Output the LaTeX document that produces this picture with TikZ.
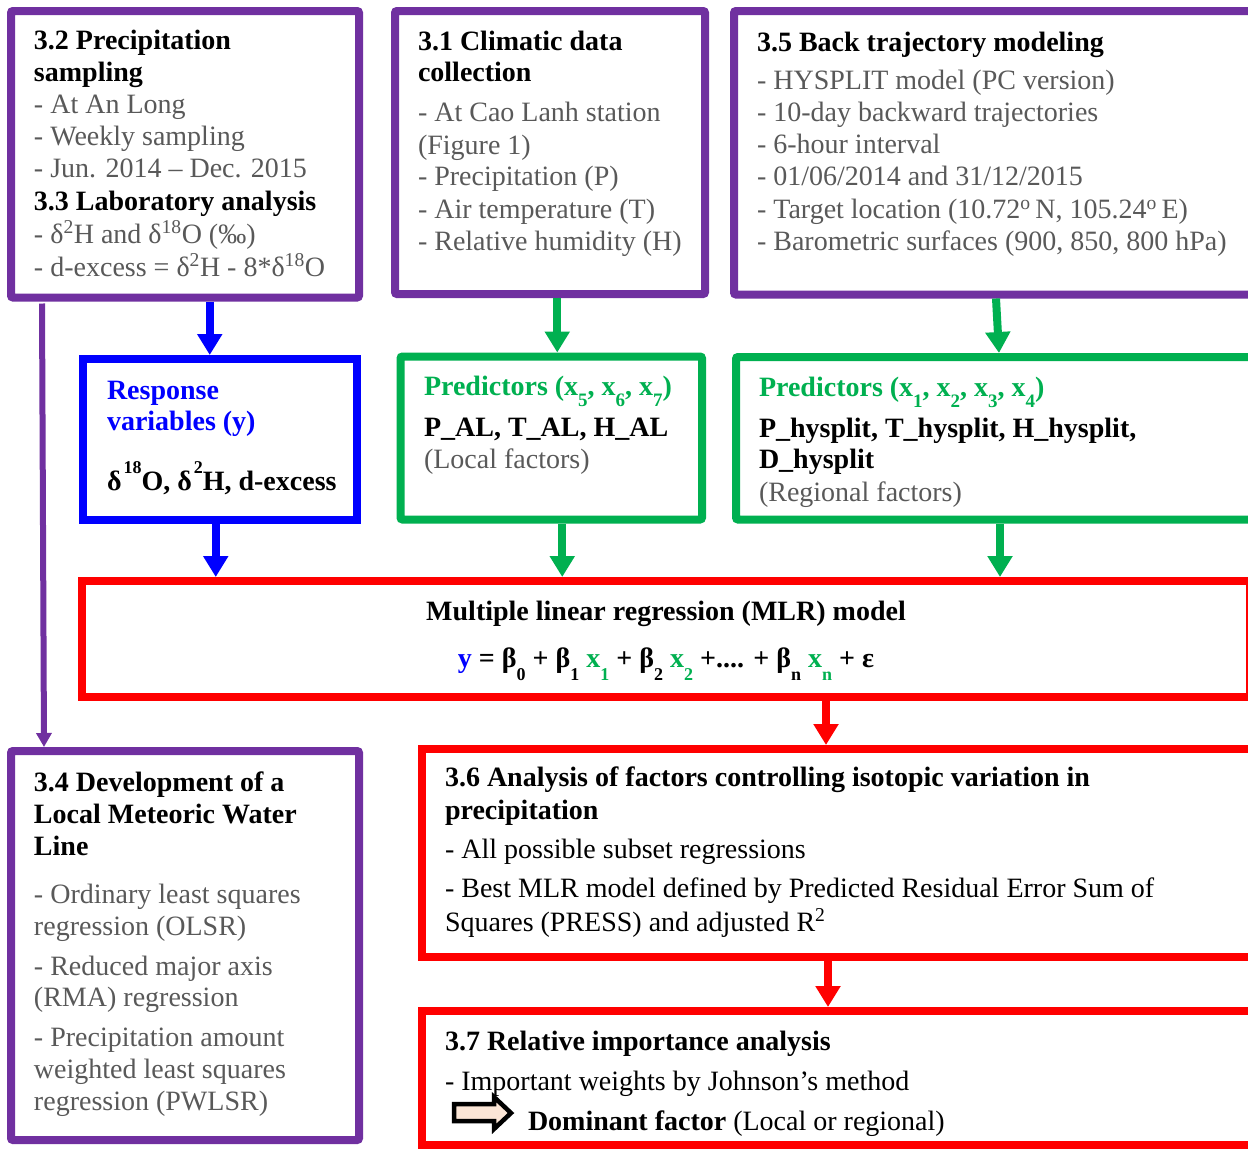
\documentclass[tikz,border=0pt]{standalone}
\usepackage{fontspec}
\setmainfont{Liberation Serif}
\usetikzlibrary{arrows.meta}
\definecolor{cpurple}{HTML}{7030A0}
\definecolor{cblue}{HTML}{0000FF}
\definecolor{cgreen}{HTML}{00B050}
\definecolor{cred}{HTML}{FF0000}
\definecolor{cgray}{HTML}{595959}
\definecolor{cpeach}{HTML}{FBE5D6}
\newcommand{\tline}[4]{\node[#2] (#1) at (#3) {#4};}
\newcommand{\lsub}[1]{\raisebox{-11pt}{\fontsize{19}{19}\selectfont #1}}
\newcommand{\eqsub}[1]{\raisebox{-13pt}{\fontsize{18}{18}\selectfont #1}}
\newcommand{\hsup}[1]{\hspace{2pt}\raisebox{17pt}{\fontsize{18}{18}\selectfont #1}}
\begin{document}
\begin{tikzpicture}[x=1pt,y=-1pt,
 box/.style={draw=#1,line width=8pt,fill=white,rounded corners=2pt,inner sep=0pt,outer sep=4pt},
 tx/.style={inner sep=0pt,outer sep=0pt,anchor=base west,font=\fontsize{28}{32}\selectfont},
 hd/.style={tx,font=\fontsize{28}{32}\selectfont\bfseries},
 gr/.style={tx,text=cgray},
 arr/.style={draw=#1,line width=8pt,-{Triangle[length=21pt,width=24pt]}},
 parr/.style={draw=cpurple,line width=6pt,-{Triangle[length=14pt,width=15pt]}}]
\fill[white] (0,0) rectangle (1248,1149);
\useasboundingbox (0,0) rectangle (1248,1149);
\clip (0,0) rectangle (1248,1149);

% boxes
\node[box=cpurple,minimum width=348pt,minimum height=286.5pt] (b32) at (185,154.25) {};
\node[box=cpurple,minimum width=310pt,minimum height=283pt] (b31) at (550,152.5) {};
\node[box=cpurple,minimum width=524pt,minimum height=283.5pt] (b35) at (996,152.75) {};
\node[box=cblue,rounded corners=0pt,minimum width=273.5pt,minimum height=161pt] (resp) at (219.75,439.5) {};
\node[box=cgreen,minimum width=301.5pt,minimum height=163pt] (loc) at (551.25,438) {};
\node[box=cgreen,minimum width=526pt,minimum height=162.5pt] (reg) at (999,438.25) {};
\node[box=cred,rounded corners=0pt,minimum width=1168pt,minimum height=116pt] (mlr) at (666,639) {};
\node[box=cpurple,minimum width=348pt,minimum height=389pt] (b34) at (185,945.5) {};
\node[box=cred,rounded corners=0pt,minimum width=834pt,minimum height=208pt] (b36) at (839,853) {};
\node[box=cred,rounded corners=0pt,minimum width=834pt,minimum height=134pt] (b37) at (839,1078) {};

% box 3.2 / 3.3
\tline{t32a}{hd}{34,49.5}{3.2 Precipitation}
\tline{t32b}{hd}{34,81.5}{sampling}
\tline{t32c}{gr}{34,113}{- At An Long}
\tline{t32d}{gr}{34,145.5}{- Weekly sampling}
\tline{t32e}{gr}{34,177}{- Jun. 2014 – Dec. 2015}
\tline{t33a}{hd}{34,210}{3.3 Laboratory analysis}
\tline{t33b}{gr}{34,243}{- δ\textsuperscript{2}H and δ\textsuperscript{18}O (‰)}
\tline{t33c}{gr}{34,276}{- d-excess = δ\textsuperscript{2}H - 8*δ\textsuperscript{18}O}

% box 3.1
\tline{t31a}{hd}{418,50.7}{3.1 Climatic data}
\tline{t31b}{hd}{418,81.7}{collection}
\tline{t31c}{gr}{418,121.7}{- At Cao Lanh station}
\tline{t31d}{gr}{418,154}{(Figure 1)}
\tline{t31e}{gr}{418,185.7}{- Precipitation (P)}
\tline{t31f}{gr}{418,218.3}{- Air temperature (T)}
\tline{t31g}{gr}{418,250}{- Relative humidity (H)}

% box 3.5
\tline{t35a}{hd}{757,51.7}{3.5 Back trajectory modeling}
\tline{t35b}{gr}{757,89.3}{- HYSPLIT model (PC version)}
\tline{t35c}{gr}{757,121.7}{- 10-day backward trajectories}
\tline{t35d}{gr}{757,153.3}{- 6-hour interval}
\tline{t35e}{gr}{757,185.7}{- 01/06/2014 and 31/12/2015}
\tline{t35f}{gr}{757,218.3}{- Target location (10.72\textsuperscript{o}\,N, 105.24\textsuperscript{o}\,E)}
\tline{t35g}{gr}{757,250}{- Barometric surfaces (900, 850, 800 hPa)}

% response
\tline{tra}{hd,text=cblue}{107,399.3}{Response}
\tline{trb}{hd,text=cblue}{107,430}{variables (y)}
\tline{trc}{hd}{107,490.7}{δ\hsup{18}O, δ\hsup{2}H, d-excess}

% local predictors
\tline{tla}{hd,text=cgreen}{424,395}{Predictors (x\lsub{5}, x\lsub{6}, x\lsub{7})}
\tline{tlb}{hd}{424,436}{P\_AL, T\_AL, H\_AL}
\tline{tlc}{gr}{424,468.3}{(Local factors)}

% regional predictors
\tline{tga}{hd,text=cgreen}{759,396.7}{Predictors (x\lsub{1}, x\lsub{2}, x\lsub{3}, x\lsub{4})}
\tline{tgb}{hd}{759,437.3}{P\_hysplit, T\_hysplit, H\_hysplit,}
\tline{tgc}{hd}{759,468.3}{D\_hysplit}
\tline{tgd}{gr}{759,501.7}{(Regional factors)}

% MLR
\tline{tma}{hd,anchor=base}{666,620.7}{Multiple linear regression (MLR) model}
\tline{tmb}{hd,anchor=base}{666,667}{\textcolor{cblue}{y} = β\eqsub{0} + β\eqsub{1} \textcolor{cgreen}{x\eqsub{1}} + β\eqsub{2} \textcolor{cgreen}{x\eqsub{2}} +.... + β\eqsub{n} \textcolor{cgreen}{x\eqsub{n}} + ε}

% box 3.4
\tline{t34a}{hd}{34,791.7}{3.4 Development of a}
\tline{t34b}{hd}{34,823.3}{Local Meteoric Water}
\tline{t34c}{hd}{34,855}{Line}
\tline{t34d}{gr}{34,903.3}{- Ordinary least squares}
\tline{t34e}{gr}{34,935}{regression (OLSR)}
\tline{t34f}{gr}{34,975}{- Reduced major axis}
\tline{t34g}{gr}{34,1006.7}{(RMA) regression}
\tline{t34h}{gr}{34,1046.7}{- Precipitation amount}
\tline{t34i}{gr}{34,1078.3}{weighted least squares}
\tline{t34j}{gr}{34,1110}{regression (PWLSR)}

% box 3.6
\tline{t36a}{hd}{445,786.7}{3.6 Analysis of factors controlling isotopic variation in}
\tline{t36b}{hd}{445,819.3}{precipitation}
\tline{t36c}{tx}{445,858.3}{- All possible subset regressions}
\tline{t36d}{tx}{445,897.7}{- Best MLR model defined by Predicted Residual Error Sum of}
\tline{t36e}{tx}{445,931}{Squares (PRESS) and adjusted R\textsuperscript{2}}

% box 3.7
\tline{t37a}{hd}{445,1050}{3.7 Relative importance analysis}
\tline{t37b}{tx}{445,1090}{- Important weights by Johnson’s method}
\tline{t37c}{tx}{528,1130}{\textbf{Dominant factor} (Local or regional)}
\draw[line width=4.5pt,fill=cpeach,line join=miter]
  (454,1104) -- (494,1104) -- (494,1097) -- (511,1113) -- (494,1129) -- (494,1121) -- (454,1121) -- cycle;

% connectors
\draw[arr=cblue] ([xshift=-10pt]resp.north |- b32.south) -- ([xshift=-10pt]resp.north);
\draw[arr=cgreen] ([xshift=6pt]loc.north |- b31.south) -- ([xshift=6pt]loc.north);
\draw[arr=cgreen] (b35.south) -- (reg.north);
\draw[arr=cblue] ([xshift=-4pt]resp.south) -- ([xshift=-4pt]resp.south |- mlr.north);
\draw[arr=cgreen] ([xshift=11pt]loc.south) -- ([xshift=11pt]loc.south |- mlr.north);
\draw[arr=cgreen] ([xshift=1pt]reg.south) -- ([xshift=1pt]reg.south |- mlr.north);
\draw[arr=cred] ([xshift=160pt]mlr.south) -- ([xshift=160pt]mlr.south |- b36.north);
\draw[arr=cred] ([xshift=-11pt]b36.south) -- ([xshift=-11pt]b36.south |- b37.north);
\draw[parr] ([xshift=-143pt,yshift=-2pt]b32.south) -- ([xshift=-141pt]b34.north);
\end{tikzpicture}
\end{document}
